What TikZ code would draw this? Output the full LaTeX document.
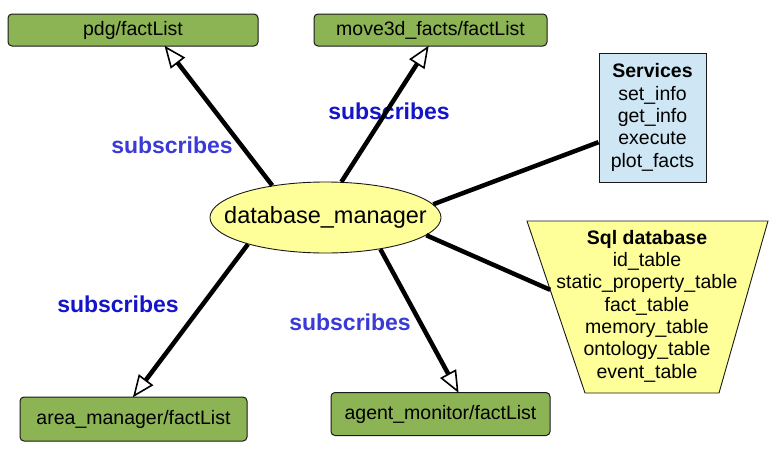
\documentclass[tikz,border=0pt]{standalone}
\usepackage{fontspec}
\setmainfont{Liberation Sans}
\usetikzlibrary{arrows.meta,calc,shapes.geometric}
\definecolor{boxgreen}{RGB}{141,180,84}
\definecolor{srvblue}{RGB}{207,231,245}
\definecolor{lightyel}{RGB}{255,255,153}
\definecolor{sublight}{RGB}{58,58,215}
\definecolor{subdark}{RGB}{20,20,200}
\tikzset{
  topicbox/.style={draw=black!90, line width=1pt, fill=boxgreen, rounded corners=4pt,
    font=\fontsize{19.5}{22}\selectfont, inner sep=0pt},
  subarrow/.style={line width=4.5pt, shorten >=-1pt, -{Triangle[fill=white, line width=1.6pt, length=22pt, width=18pt]}},
  plainline/.style={line width=4.5pt},
  sublabel/.style={font=\fontsize{23}{26}\selectfont\bfseries},
  listtext/.style={font=\fontsize{19.5}{22.3}\selectfont, align=center, inner sep=0pt}
}
\begin{document}
\begin{tikzpicture}[x=1pt,y=-1pt]
\useasboundingbox (0,0) rectangle (782,458);

% topic boxes
\node[topicbox, minimum width=250pt, minimum height=32pt] (pdg) at (133,30) {pdg/factList};
\node[topicbox, minimum width=233pt, minimum height=32pt] (m3d) at (430.5,30) {move3d\_facts/factList};
\node[topicbox, minimum width=227pt, minimum height=44pt] (am) at (133.5,419) {area\_manager/factList};
\node[topicbox, minimum width=219pt, minimum height=43pt] (agm) at (440.5,414) {agent\_monitor/factList};

% services box
\node[draw=black!90, line width=1pt, fill=srvblue, minimum width=107pt, minimum height=129pt,
  listtext] (srv) at (652.5,117.5) {\textbf{Services}\\set\_info\\get\_info\\execute\\plot\_facts};

% sql trapezoid
\coordinate (sqlTL) at (527,221);
\coordinate (sqlTR) at (768,221);
\coordinate (sqlBR) at (719,393);
\coordinate (sqlBL) at (585,393);
\draw[black!90, line width=0.9pt, fill=lightyel] (sqlTL) -- (sqlTR) -- (sqlBR) -- (sqlBL) -- cycle;
\node[listtext] (sql) at (647,306) {\textbf{Sql database}\\id\_table\\static\_property\_table\\fact\_table\\memory\_table\\ontology\_table\\event\_table};
\coordinate (sqlin) at ($(sqlTL)!0.4!(sqlBL)$);

% labels (under the lines)
\node[sublabel, text=sublight] (l1) at (172,145) {subscribes};
\node[sublabel, text=subdark] (l2) at (389,111) {subscribes};
\node[sublabel, text=subdark] (l3) at (118,304) {subscribes};
\node[sublabel, text=sublight] (l4) at (350,322) {subscribes};

% central ellipse
\node[draw=black!90, line width=0.9pt, fill=lightyel, ellipse, minimum width=231pt, minimum height=71pt,
  inner sep=0pt] (dm) at (325.5,217.5) {};
\node[font=\fontsize{23.5}{26}\selectfont, inner sep=0pt] (dmtext) at (dm.center) {database\_manager};

% connectors
\draw[subarrow] (dm.149) -- ($(pdg.south west)!0.628!(pdg.south east)$);
\draw[subarrow] (dm.66) -- ($(m3d.south west)!0.49!(m3d.south east)$);
\draw[subarrow] (dm.199) -- (am.north);
\draw[subarrow] (dm.330) -- ($(agm.north west)!0.58!(agm.north east)$);
\draw[plainline] (dm.7) -- ($(srv.north west)!0.69!(srv.south west)$);
\draw[plainline] (dm.-10) -- (sqlin);
\end{tikzpicture}
\end{document}
